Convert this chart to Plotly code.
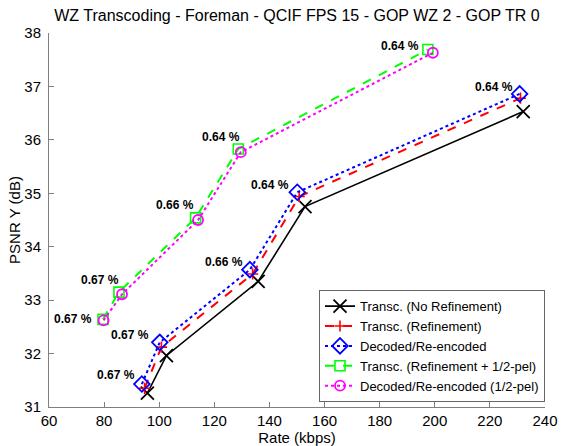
import plotly.graph_objects as go

# ---- data ----
rate_norefine = [95.7, 102.6, 135.9, 152.9, 232.1]
psnr_norefine = [31.26, 31.96, 33.35, 34.75, 36.53]

rate_refine = [94.7, 100.8, 133.9, 150.8, 231.1]
psnr_refine = [31.35, 32.12, 33.49, 34.94, 36.78]

rate_decoded = [93.7, 100.2, 132.9, 150.1, 230.8]
psnr_decoded = [31.43, 32.21, 33.57, 35.02, 36.86]

rate_halfpel = [79.6, 85.4, 113.2, 128.7, 197.5]
psnr_halfpel = [32.64, 33.15, 34.54, 35.83, 37.69]

rate_decoded_half = [79.8, 86.5, 114.1, 129.6, 199.3]
psnr_decoded_half = [32.62, 33.11, 34.50, 35.77, 37.63]

series_names = [
    "Transc. (No Refinement)",
    "Transc. (Refinement)",
    "Decoded/Re-encoded",
    "Transc. (Refinement + 1/2-pel)",
    "Decoded/Re-encoded (1/2-pel)",
]

# percentage annotations (text and anchor positions in data units)
labels_half_text = ["0.67 %", "0.67 %", "0.66 %", "0.64 %", "0.64 %"]
labels_half_x = [75.8, 85.6, 113.0, 129.6, 194.7]
labels_half_y = [32.65, 33.38, 34.79, 36.06, 37.75]

labels_dec_text = ["0.67 %", "0.67 %", "0.66 %", "0.64 %", "0.64 %"]
labels_dec_x = [91.7, 96.5, 130.7, 147.5, 228.7]
labels_dec_y = [31.60, 32.35, 33.71, 35.16, 36.99]

x_ticks = [60, 80, 100, 120, 140, 160, 180, 200, 220, 240]
y_ticks = [31, 32, 33, 34, 35, 36, 37, 38]

title_text = "WZ Transcoding - Foreman - QCIF FPS 15 - GOP WZ 2 - GOP TR 0"

FONT = "Liberation Sans, Arial, Helvetica, sans-serif"
AXIS_GREY = "#7f7f7f"

fig = go.Figure()

fig.add_trace(go.Scatter(
    x=rate_norefine, y=psnr_norefine, name=series_names[0], mode="lines+markers",
    line=dict(color="black", width=1.6, dash="solid"),
    marker=dict(symbol="x-thin", size=13, color="black", line=dict(color="black", width=1.8)),
))
fig.add_trace(go.Scatter(
    x=rate_refine, y=psnr_refine, name=series_names[1], mode="lines+markers",
    line=dict(color="#ff0000", width=2, dash="dash"),
    marker=dict(symbol="cross-thin", size=8, color="#ff0000", line=dict(color="#ff0000", width=1.6)),
))
fig.add_trace(go.Scatter(
    x=rate_decoded, y=psnr_decoded, name=series_names[2], mode="lines+markers",
    line=dict(color="#0000ff", width=2, dash="dot"),
    marker=dict(symbol="diamond-open", size=12, color="#0000ff", line=dict(color="#0000ff", width=1.8)),
))
fig.add_trace(go.Scatter(
    x=rate_halfpel, y=psnr_halfpel, name=series_names[3], mode="lines+markers",
    line=dict(color="#00ff00", width=2, dash="dash"),
    marker=dict(symbol="square-open", size=10, color="#00ff00", line=dict(color="#00ff00", width=1.6)),
))
fig.add_trace(go.Scatter(
    x=rate_decoded_half, y=psnr_decoded_half, name=series_names[4], mode="lines+markers",
    line=dict(color="#ff00ff", width=2, dash="dot"),
    marker=dict(symbol="circle-open", size=10, color="#ff00ff", line=dict(color="#ff00ff", width=1.8)),
))

annotations = []
for txt, xv, yv in list(zip(labels_half_text, labels_half_x, labels_half_y)) + \
        list(zip(labels_dec_text, labels_dec_x, labels_dec_y)):
    annotations.append(dict(
        x=xv, y=yv, xref="x", yref="y", text="<b>" + txt + "</b>", showarrow=False,
        xanchor="right", yanchor="middle", borderpad=0,
        font=dict(family=FONT, size=12, color="black"),
    ))

fig.update_layout(
    width=561, height=446,
    margin=dict(l=49, r=16, t=33, b=39, pad=0),
    paper_bgcolor="white", plot_bgcolor="white",
    font=dict(family=FONT, size=15, color="black"),
    title=dict(
        text=title_text, x=0.5, xref="paper", xanchor="center",
        y=1 - 15 / 446, yref="container", yanchor="middle",
        font=dict(family=FONT, size=16, color="black"),
    ),
    showlegend=True,
    legend=dict(
        x=1, y=0.013, xanchor="right", yanchor="bottom",
        bgcolor="white", bordercolor="#666666", borderwidth=1,
        font=dict(family=FONT, size=13, color="black"),
        itemwidth=30, tracegroupgap=0,
    ),
    annotations=annotations,
)

fig.update_xaxes(
    range=[60, 240], tickvals=x_ticks, ticktext=[str(v) for v in x_ticks],
    showgrid=False, zeroline=False, showline=True, linecolor=AXIS_GREY, linewidth=1,
    ticks="inside", ticklen=5, tickcolor=AXIS_GREY, ticklabelstandoff=0,
    tickfont=dict(family=FONT, size=15, color="black"),
    title=dict(text="Rate (kbps)", font=dict(family=FONT, size=15, color="black"), standoff=4),
    automargin=False, mirror=False,
)
fig.update_yaxes(
    range=[31, 38], tickvals=y_ticks, ticktext=[str(v) for v in y_ticks],
    showgrid=False, zeroline=False, showline=True, linecolor=AXIS_GREY, linewidth=1,
    ticks="inside", ticklen=5, tickcolor=AXIS_GREY, ticklabelstandoff=4,
    tickfont=dict(family=FONT, size=15, color="black"),
    title=dict(text="PSNR Y (dB)", font=dict(family=FONT, size=15, color="black"), standoff=0),
    automargin=False, mirror=False,
)

fig.write_html(
    "out.html",
    config={"displayModeBar": False},
    post_script="document.body.style.margin='0';document.body.style.padding='0';",
)
